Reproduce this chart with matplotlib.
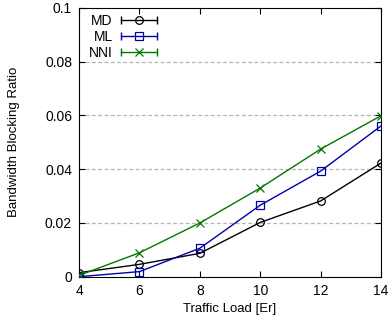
import matplotlib
matplotlib.use("Agg")
import matplotlib.pyplot as plt
from matplotlib.lines import Line2D

plt.rcParams['font.family'] = ['Liberation Sans', 'DejaVu Sans']

load = [4, 6, 8, 10, 12, 14]
md = [0.0015, 0.0046, 0.0087, 0.0202, 0.0282, 0.0423]
ml = [0.0, 0.0019, 0.0106, 0.0266, 0.0393, 0.0561]
nni = [0.0005, 0.0089, 0.0200, 0.0330, 0.0475, 0.0599]

series = [("MD", md, "black", "o"), ("ML", ml, "#0000a8", "s"), ("NNI", nni, "#007800", "x")]


class CapHandler:
    # gnuplot-like key sample: line with end caps and marker in middle
    def legend_artist(self, legend, orig_handle, fontsize, handlebox):
        x0 = -handlebox.xdescent
        w = handlebox.width
        yc = -handlebox.ydescent + handlebox.height / 2
        col = orig_handle.get_color()
        mk = orig_handle.get_marker()
        line = Line2D([x0, x0 + w], [yc, yc], color=col, lw=1)
        caps = Line2D([x0, x0 + w], [yc, yc], ls='none', marker='|', ms=6, mew=1, color=col)
        mid = Line2D([x0 + w / 2], [yc], ls='none', marker=mk, ms=5.5, mfc='none', mec=col, mew=0.9)
        for a in (line, caps, mid):
            a.set_transform(handlebox.get_transform())
            handlebox.add_artist(a)
        return line


fig = plt.figure(figsize=(3.9, 3.33), dpi=100)
ax = fig.add_axes([0.2026, 0.169, 0.7744, 0.807])

handles = []
for name, vals, col, mk in series:
    h, = ax.plot(load, vals, color=col, lw=1, marker=mk, ms=5.5, mfc='none', mec=col, mew=0.9, zorder=3)
    handles.append(h)

ax.set_xlim(4, 14)
ax.set_ylim(0, 0.1)
ax.set_xticks(load)
ax.set_yticks([0, 0.02, 0.04, 0.06, 0.08, 0.1])
ax.set_yticklabels(["0", "0.02", "0.04", "0.06", "0.08", "0.1"])
ax.tick_params(direction='in', top=True, right=True, labelsize=10, length=4, pad=5)
for y in [0.02, 0.04, 0.06, 0.08]:
    ax.axhline(y, color='#b4b4b4', lw=0.9, ls=(0, (3, 2)), zorder=1)

ax.set_xlabel("Traffic Load [Er]", fontsize=9.5, labelpad=4)
ax.set_ylabel("Bandwidth Blocking Ratio", fontsize=9.5, labelpad=18)

ax.legend(handles, [s[0] for s in series], loc='upper left', frameon=False,
          handler_map={Line2D: CapHandler()},
          markerfirst=False, fontsize=10, handlelength=2.6, handletextpad=0.6,
          labelspacing=0.15, borderaxespad=0.0, bbox_to_anchor=(0.014, 1.0))

fig.savefig("out.png", dpi=100)
